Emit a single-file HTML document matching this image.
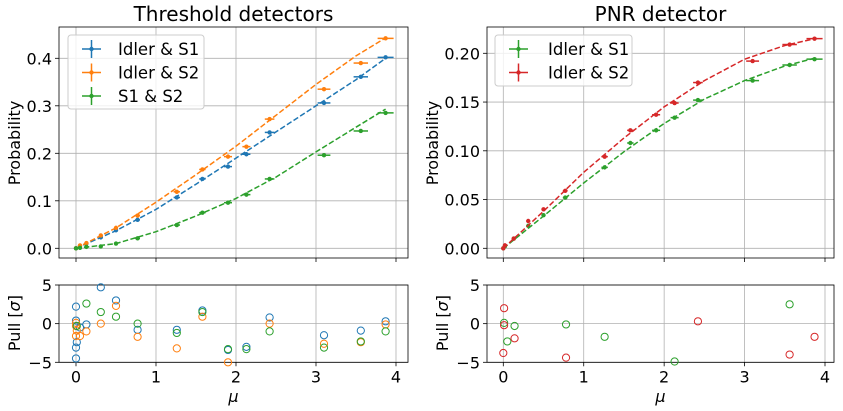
<!DOCTYPE html>
<html><head><meta charset="utf-8"><style>
html,body{margin:0;padding:0;background:#fff}
svg{display:block;font-family:"DejaVu Sans","Liberation Sans",sans-serif}
</style></head><body>
<svg id="c" width="843" height="411" viewBox="0 0 843 411" xmlns="http://www.w3.org/2000/svg"></svg>
<script>
// ---- data ----
const muL = [0, 0.05, 0.13, 0.31, 0.5, 0.77, 1.26, 1.58, 1.9, 2.13, 2.42, 3.1, 3.56, 3.87];
const probI1 = [0, 0.005, 0.01, 0.023, 0.038, 0.06, 0.107, 0.146, 0.172, 0.198, 0.244, 0.306, 0.361, 0.402];
const probI2 = [0, 0.006, 0.011, 0.027, 0.043, 0.069, 0.119, 0.166, 0.193, 0.214, 0.272, 0.335, 0.39, 0.442];
const probS12 = [0, 0.001, 0.003, 0.004, 0.01, 0.021, 0.049, 0.075, 0.096, 0.113, 0.146, 0.196, 0.247, 0.285];
const xerrL = [0.01, 0.01, 0.01, 0.02, 0.02, 0.03, 0.04, 0.04, 0.05, 0.05, 0.06, 0.08, 0.09, 0.1];
const fitMu = [0, 0.5, 1, 1.5, 2, 2.5, 3, 3.5, 3.87];
const fitI1 = [0, 0.037, 0.082, 0.135, 0.19, 0.245, 0.3, 0.355, 0.40];
const fitI2 = [0, 0.043, 0.097, 0.155, 0.215, 0.28, 0.345, 0.405, 0.443];
const fitS12 = [0, 0.01, 0.035, 0.068, 0.105, 0.15, 0.203, 0.255, 0.293];
const muR = [0, 0.02, 0.13, 0.31, 0.5, 0.77, 1.26, 1.58, 1.9, 2.13, 2.42, 3.1, 3.56, 3.87];
const pnrI1 = [0, 0.002, 0.01, 0.023, 0.034, 0.052, 0.083, 0.108, 0.121, 0.134, 0.152, 0.172, 0.188, 0.194];
const pnrI2 = [0, 0.003, 0.01, 0.028, 0.04, 0.059, 0.094, 0.121, 0.137, 0.149, 0.17, 0.192, 0.209, 0.215];
const fitPI1 = [0, 0.033, 0.067, 0.099, 0.128, 0.153, 0.172, 0.187, 0.195];
const fitPI2 = [0, 0.038, 0.078, 0.113, 0.145, 0.172, 0.194, 0.208, 0.215];
const pullI1x = [0,0,0,0,0.01,0.05,0.13,0.31,0.5,0.77,1.26,1.58,1.9,2.13,2.42,3.1,3.56,3.87];
const pullI1y = [2.2,0.4,-3.1,-4.5,-2.4,-0.5,-0.1,4.7,3.0,-0.8,-0.8,1.7,-3.4,-3.0,0.8,-1.5,-0.9,0.3];
const pullI2x = [0,0,0,0.01,0.05,0.13,0.31,0.5,0.77,1.26,1.58,1.9,2.42,3.1,3.56,3.87];
const pullI2y = [0.1,-0.3,-1.6,-0.9,-1.6,-1.0,0,2.3,-1.7,-3.2,0.9,-5,0,-2.6,-2.4,-0.1];
const pullS12x = [0.01,0.13,0.31,0.5,0.77,1.26,1.58,1.9,2.13,2.42,3.1,3.56,3.87];
const pullS12y = [-0.3,2.6,1.5,0.9,0,-1.2,1.5,-3.3,-3.3,-1.0,-3.1,-2.3,-1.0];
const pullPI1x = [0.01,0.05,0.14,0.78,1.26,2.13,3.56];
const pullPI1y = [0.1,-2.3,-0.3,-0.1,-1.7,-4.9,2.5];
const pullPI2x = [0.01,0.01,0,0.14,0.78,2.42,3.56,3.87];
const pullPI2y = [2.0,-0.2,-3.8,-1.9,-4.4,0.3,-4.0,-1.7];
const xTicks = [0,1,2,3,4];
const yTicksL = [0,0.1,0.2,0.3,0.4];
const yTicksR = [0,0.05,0.1,0.15,0.2];
const pullTicks = [5,0,-5];

const C = {blue:'#1f77b4', orange:'#ff7f0e', green:'#2ca02c', red:'#d62728'};
const svg = document.getElementById('c');
const NS = 'http://www.w3.org/2000/svg';
function el(tag, attrs, parent){const e=document.createElementNS(NS,tag);for(const k in attrs)e.setAttribute(k,attrs[k]);(parent||svg).appendChild(e);return e;}

function panel(o){
  const g = el('g',{});
  
  
  const sx = v => o.x0 + (v - 0) * (o.x4 - o.x0) / 4;
  const sy = v => o.yA + (v - o.vA) * (o.yB - o.yA) / (o.vB - o.vA);
  xTicks.forEach(t=>{ el('line',{x1:sx(t),x2:sx(t),y1:o.top,y2:o.bot,stroke:'#b0b0b0','stroke-width':0.8},g); });
  o.yTicks.forEach(t=>{ el('line',{x1:o.left,x2:o.right,y1:sy(t),y2:sy(t),stroke:'#b0b0b0','stroke-width':0.8},g); });
  xTicks.forEach(t=>{
    el('line',{x1:sx(t),x2:sx(t),y1:o.bot,y2:o.bot+4,stroke:'#000','stroke-width':0.8},g);
    if(o.xlabels){const tx=el('text',{x:sx(t),y:o.bot+20,'font-size':16,'text-anchor':'middle'},g);tx.textContent=t;
      
      }
  });
  o.yTicks.forEach(t=>{
    el('line',{x1:o.left-4,x2:o.left,y1:sy(t),y2:sy(t),stroke:'#000','stroke-width':0.8},g);
    const tx=el('text',{x:o.left-7,y:sy(t)+6,'font-size':16,'text-anchor':'end'},g);
    tx.textContent = o.fmt(t);
    
    
  });
  el('rect',{x:o.left,y:o.top,width:o.right-o.left,height:o.bot-o.top,fill:'none',stroke:'#000','stroke-width':0.8},g);
  return {g,sx,sy};
}

function fmt1(t){return t.toFixed(1);} function fmt2(t){return t.toFixed(2);} function fmtP(t){return t<0?'\u2212'+(-t):String(t);}

function drawSeries(p, mu, ys, xerr, fx, fy, col, name){
  let d='';
  fx.forEach((m,i)=>{d+=(i?'L':'M')+p.sx(m).toFixed(1)+','+p.sy(fy[i]).toFixed(1);});
  const fl=el('path',{d:d,fill:'none',stroke:col,'stroke-width':1.5,'stroke-dasharray':'5.5,2.4'},p.g);
  
  
  mu.forEach((m,i)=>{
    const x=p.sx(m), y=p.sy(ys[i]), e=xerr[i]*(p.sx(1)-p.sx(0));
    el('line',{x1:x-e,x2:x+e,y1:y,y2:y,stroke:col,'stroke-width':1.5},p.g);
    el('line',{x1:x,x2:x,y1:y-1.5,y2:y+1.5,stroke:col,'stroke-width':1.5},p.g);
    const c=el('circle',{cx:x,cy:y,r:2.2,fill:col},p.g);
    
    
  });
}
function drawPull(p, xs, ys, col, name){
  xs.forEach((m,i)=>{
    const c=el('circle',{cx:p.sx(m),cy:p.sy(ys[i]),r:3.6,fill:'none',stroke:col,'stroke-width':1},p.g);
    
    
  });
}
function text(x,y,s,size,name,extra){const t=el('text',Object.assign({x:x,y:y,'font-size':size},extra||{}));t.textContent=s;
  
  return t;}
function legend(x,y,w,h,entries,name,tx){
  const g=el('g',{});
  
  
  el('rect',{x:x,y:y,width:w,height:h,rx:3,fill:'#fff','fill-opacity':0.8,stroke:'#ccc'},g);
  entries.forEach((e,i)=>{
    const cy=y+14+i*23.5;
    el('line',{x1:x+14,x2:x+33,y1:cy,y2:cy,stroke:e[1],'stroke-width':1.5},g);
    el('line',{x1:x+23.5,x2:x+23.5,y1:cy-9,y2:cy+9,stroke:e[1],'stroke-width':1.5},g);
    el('circle',{cx:x+23.5,cy:cy,r:2.2,fill:e[1]},g);
    const t=el('text',{x:x+tx,y:cy+6,'font-size':16.5},g);t.textContent=e[0];
    
    
  });
}

const L = panel({name:'threshold-plot',left:59,right:408,top:27,bot:258,x0:76,x4:396,yA:248.3,vA:0,yB:58.3,vB:0.4,yTicks:yTicksL,fmt:fmt1,xlabels:false});
drawSeries(L, muL, probI1, xerrL, fitMu, fitI1, C.blue, 'idler-s1');
drawSeries(L, muL, probI2, xerrL, fitMu, fitI2, C.orange, 'idler-s2');
drawSeries(L, muL, probS12, xerrL, fitMu, fitS12, C.green, 's1-s2');
legend(68,35,136,74,[['Idler & S1',C.blue],['Idler & S2',C.orange],['S1 & S2',C.green]],'threshold-legend',50);
text(233.5,21,'Threshold detectors',20,'threshold-title',{'text-anchor':'middle'});
text(20,143,'Probability',16,'y-axis-title',{'text-anchor':'middle',transform:'rotate(-90 20 143)'});

const R = panel({name:'pnr-plot',left:487,right:834,top:27,bot:258,x0:503.3,x4:825,yA:248.3,vA:0,yB:53.3,vB:0.2,yTicks:yTicksR,fmt:fmt2,xlabels:false});
drawSeries(R, muR, pnrI1, xerrL, fitMu, fitPI1, C.green, 'pnr-idler-s1');
drawSeries(R, muR, pnrI2, xerrL, fitMu, fitPI2, C.red, 'pnr-idler-s2');
legend(495,35,137,51,[['Idler & S1',C.green],['Idler & S2',C.red]],'pnr-legend',53);
text(660.5,21,'PNR detector',20,'pnr-title',{'text-anchor':'middle'});
text(438,143,'Probability',16,'y-axis-title-right',{'text-anchor':'middle',transform:'rotate(-90 438 143)'});

function pullTitle(x,name){
  const t=el('text',{x:x,y:323,'font-size':16,'text-anchor':'middle',transform:'rotate(-90 '+x+' 323)'});
  
  
  t.appendChild(document.createTextNode('Pull ['));
  const s=el('tspan',{'font-style':'italic'},t);s.textContent='\u03c3';
  t.appendChild(document.createTextNode(']'));
}

const PL = panel({name:'threshold-pull-plot',left:59,right:408,top:285,bot:362.3,x0:76,x4:396,yA:285,vA:5,yB:362.3,vB:-5,yTicks:pullTicks,fmt:fmtP,xlabels:true});
drawPull(PL, pullI1x, pullI1y, C.blue, 'idler-s1');
drawPull(PL, pullI2x, pullI2y, C.orange, 'idler-s2');
drawPull(PL, pullS12x, pullS12y, C.green, 's1-s2');
pullTitle(20,'pull-axis-title');
text(233.5,402,'\u03bc',16,'x-axis-title',{'text-anchor':'middle','font-style':'italic'});

const PR = panel({name:'pnr-pull-plot',left:487,right:834,top:285,bot:362.3,x0:503.3,x4:825,yA:285,vA:5,yB:362.3,vB:-5,yTicks:pullTicks,fmt:fmtP,xlabels:true});
drawPull(PR, pullPI1x, pullPI1y, C.green, 'pnr-idler-s1');
drawPull(PR, pullPI2x, pullPI2y, C.red, 'pnr-idler-s2');
pullTitle(448,'pull-axis-title-right');
text(660.5,402,'\u03bc',16,'x-axis-title-right',{'text-anchor':'middle','font-style':'italic'});
</script>
</body></html>
